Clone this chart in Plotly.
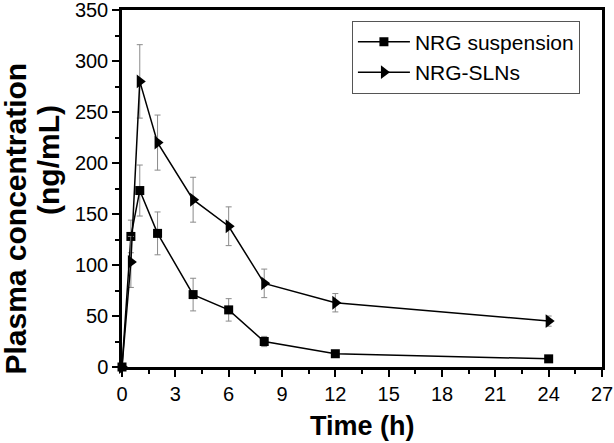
import plotly.graph_objects as go

time_h = [0, 0.5, 1, 2, 4, 6, 8, 12, 24]
susp_mean = [0, 128, 173, 131, 71, 56, 25, 13, 8]
susp_err = [0, 16, 25, 21, 16, 11, 5, 2, 1]
sln_mean = [0, 103, 280, 220, 164, 138, 82, 63, 45]
sln_err = [0, 25, 36, 27, 22, 19, 14, 9, 5]

x_ticks = [0, 3, 6, 9, 12, 15, 18, 21, 24, 27]
y_ticks = [0, 50, 100, 150, 200, 250, 300, 350]

FONT = "Liberation Sans, Arial, sans-serif"

fig = go.Figure()
fig.add_trace(go.Scatter(
    x=time_h, y=susp_mean, name="NRG suspension", mode="lines+markers",
    line=dict(color="black", width=1.5),
    marker=dict(symbol="square", size=9, color="black"),
    error_y=dict(type="data", array=susp_err, color="#8a8a8a", thickness=1, width=3),
    cliponaxis=False,
))
fig.add_trace(go.Scatter(
    x=time_h, y=sln_mean, name="NRG-SLNs", mode="lines+markers",
    line=dict(color="black", width=1.5),
    marker=dict(symbol="triangle-right", size=12, color="black"),
    error_y=dict(type="data", array=sln_err, color="#8a8a8a", thickness=1, width=3),
    cliponaxis=False,
))

axis_common = dict(
    showline=True, linecolor="black", linewidth=2.5, mirror=True,
    ticks="outside", ticklen=7, tickwidth=2, tickcolor="black",
    showgrid=False, zeroline=False, automargin=False,
    ticklabeloverflow="allow",
    tickfont=dict(family=FONT, size=20, color="black"),
)

fig.update_layout(
    width=614, height=443,
    margin=dict(l=122, r=12, t=10, b=76),
    paper_bgcolor="white", plot_bgcolor="white",
    font=dict(family=FONT, color="black"),
    xaxis=dict(
        range=[0, 27], tickvals=x_ticks,
        minor=dict(dtick=1.5, tick0=0, ticks="outside", ticklen=4, tickwidth=2, tickcolor="black"),
        **axis_common,
    ),
    yaxis=dict(
        range=[0, 350], tickvals=y_ticks,
        minor=dict(dtick=25, tick0=0, ticks="outside", ticklen=4, tickwidth=2, tickcolor="black"),
        **axis_common,
    ),
    legend=dict(
        x=0.479, y=0.97, xanchor="left", yanchor="top",
        bordercolor="#555", borderwidth=1, bgcolor="white",
        font=dict(family=FONT, size=21, color="black"),
        itemwidth=52, tracegroupgap=0,
    ),
    showlegend=True,
    annotations=[
        dict(text="<b>Time (h)</b>", xref="paper", yref="paper", x=0.5, y=-0.165,
             xanchor="center", yanchor="middle", showarrow=False,
             font=dict(family=FONT, size=27, color="black")),
        dict(text="<b>Plasma concentration</b>", xref="paper", yref="paper", x=-0.222, y=0.417,
             xanchor="center", yanchor="middle", showarrow=False, textangle=-90,
             font=dict(family=FONT, size=30, color="black")),
        dict(text="<b>(ng/mL)</b>", xref="paper", yref="paper", x=-0.152, y=0.58,
             xanchor="center", yanchor="middle", showarrow=False, textangle=-90,
             font=dict(family=FONT, size=30, color="black")),
    ],
)

fig.write_html("out.html", config={"displayModeBar": False},
               post_script="document.body.style.margin='0';")
